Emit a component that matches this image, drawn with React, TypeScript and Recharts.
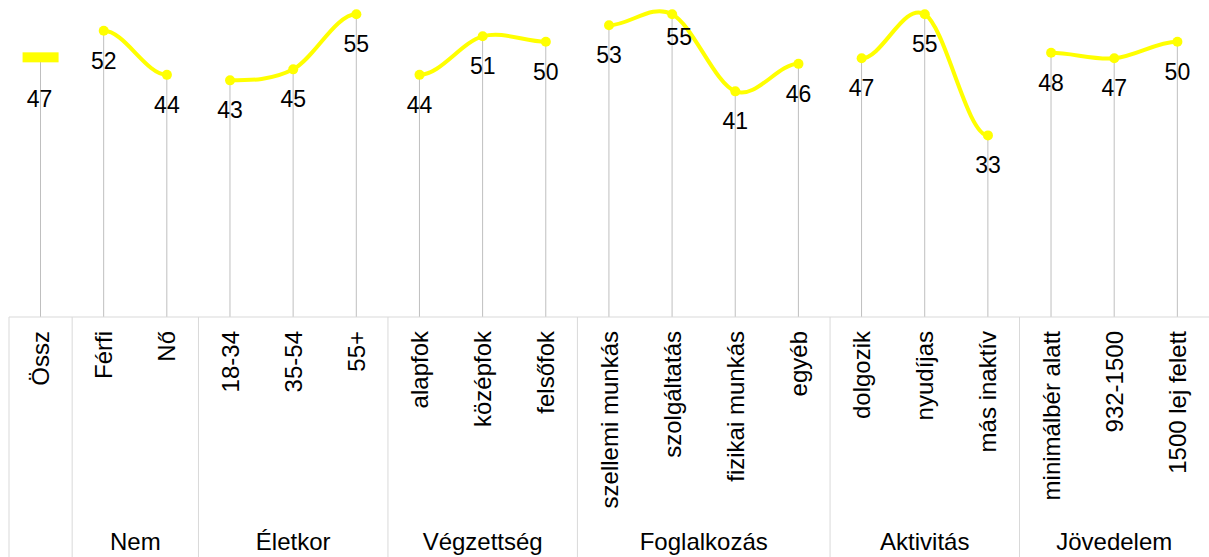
import { ComposedChart, Bar, Line, XAxis, YAxis, LabelList } from "recharts";

const categories = [
  "Össz",
  "Férfi", "Nő",
  "18-34", "35-54", "55+",
  "alapfok", "középfok", "felsőfok",
  "szellemi munkás", "szolgáltatás", "fizikai munkás", "egyéb",
  "dolgozik", "nyudíjas", "más inaktív",
  "minimálbér alatt", "932-1500", "1500 lej felett",
];
const values = [47, 52, 44, 43, 45, 55, 44, 51, 50, 53, 55, 41, 46, 47, 55, 33, 48, 47, 50];
const groupNames = ["", "Nem", "Életkor", "Végzettség", "Foglalkozás", "Aktivitás", "Jövedelem"];
const groupSizes = [1, 2, 3, 3, 4, 3, 3];

const W = 1209;
const H = 557;
const MARGIN_LEFT = 9;
const AXIS_H = 240;
const FONT = '"Liberation Sans", Arial, sans-serif';
const YELLOW = "#FFFF00";

// group index of every category + where each group starts
const groupOf: number[] = [];
const groupStart: Record<number, number> = {};
groupSizes.forEach((size, g) => {
  groupStart[groupOf.length] = g;
  for (let k = 0; k < size; k++) groupOf.push(g);
});

const data = categories.map((name, i) => {
  const row: Record<string, string | number> = { name, v: values[i] };
  row[`g${groupOf[i]}`] = values[i];
  return row;
});

// Excel-like smoothing: cubic bezier, tangents from neighbours, flat at the ends
function excelCurve(context: any) {
  let pts: number[][] = [];
  return {
    areaStart() {},
    areaEnd() {},
    lineStart() {
      pts = [];
    },
    point(x: number, y: number) {
      pts.push([+x, +y]);
    },
    lineEnd() {
      const n = pts.length;
      if (!n) return;
      context.moveTo(pts[0][0], pts[0][1]);
      const m = (i: number) =>
        i === 0 || i === n - 1 ? 0 : (pts[i + 1][1] - pts[i - 1][1]) / (pts[i + 1][0] - pts[i - 1][0]);
      for (let i = 0; i < n - 1; i++) {
        const [x0, y0] = pts[i];
        const [x1, y1] = pts[i + 1];
        const dx = (x1 - x0) / 3;
        context.bezierCurveTo(x0 + dx, y0 + m(i) * dx, x1 - dx, y1 - m(i + 1) * dx, x1, y1);
      }
    },
  };
}

const labelNudge: Record<number, [number, number]> = { 0: [-1, 11], 10: [7, -7] };

function ValueLabel(props: any) {
  const { x, y, value, index } = props;
  const [dx, dy] = labelNudge[index] ?? [0, 0];
  return (
    <text
      x={x + dx}
      y={y + 30 + dy}
      textAnchor="middle"
      dominantBaseline="central"
      fontFamily={FONT}
      fontSize={23}
      fill="#000"
    >
      {value}
    </text>
  );
}

function CategoryTick(props: any) {
  const { x, y, payload } = props;
  const index = props.index ?? payload.index;
  const half = payload.offset || (W - MARGIN_LEFT) / categories.length / 2;
  const g = groupStart[index];
  const left = x - half;
  return (
    <g>
      <text
        transform={`translate(${x},${y + 14}) rotate(-90)`}
        textAnchor="end"
        dominantBaseline="central"
        fontFamily={FONT}
        fontSize={24}
        fill="#000"
      >
        {payload.value}
      </text>
      {g !== undefined && (
        <line x1={left} y1={y} x2={left} y2={H} stroke="#D9D9D9" strokeWidth={1} />
      )}
      {g !== undefined && groupNames[g] && (
        <text
          x={left + groupSizes[g] * half}
          y={y + 224}
          textAnchor="middle"
          dominantBaseline="central"
          fontFamily={FONT}
          fontSize={24}
          fill="#000"
        >
          {groupNames[g]}
        </text>
      )}
    </g>
  );
}

function DashMarker(props: any) {
  const { cx, cy } = props;
  if (cx == null || cy == null) return <g />;
  return <rect x={cx - 18} y={cy - 6} width={36} height={10} fill={YELLOW} />;
}

export default function App() {
  return (
    <div style={{ position: "absolute", left: 0, top: 0, width: W, height: H, background: "#fff" }}>
      <ComposedChart width={W} height={H} data={data} margin={{ top: 0, right: 0, left: MARGIN_LEFT, bottom: 0 }}>
        <XAxis
          dataKey="name"
          height={AXIS_H}
          interval={0}
          tickLine={false}
          tickSize={0}
          tickMargin={0}
          axisLine={{ stroke: "#D9D9D9" }}
          tick={<CategoryTick />}
        />
        <YAxis hide domain={[0, 57.6]} />
        <Bar dataKey="v" barSize={1} fill="#BFBFBF" isAnimationActive={false} />
        <Line
          dataKey="g0"
          stroke="none"
          dot={<DashMarker />}
          activeDot={false}
          isAnimationActive={false}
        />
        {groupNames.slice(1).map((_, k) => (
          <Line
            key={k}
            dataKey={`g${k + 1}`}
            type={excelCurve as any}
            stroke={YELLOW}
            strokeWidth={4}
            dot={{ r: 5, fill: YELLOW, stroke: YELLOW, strokeWidth: 0 }}
            activeDot={false}
            isAnimationActive={false}
          />
        ))}
        <Line dataKey="v" stroke="none" dot={false} activeDot={false} isAnimationActive={false}>
          <LabelList dataKey="v" content={<ValueLabel />} />
        </Line>
      </ComposedChart>
    </div>
  );
}
